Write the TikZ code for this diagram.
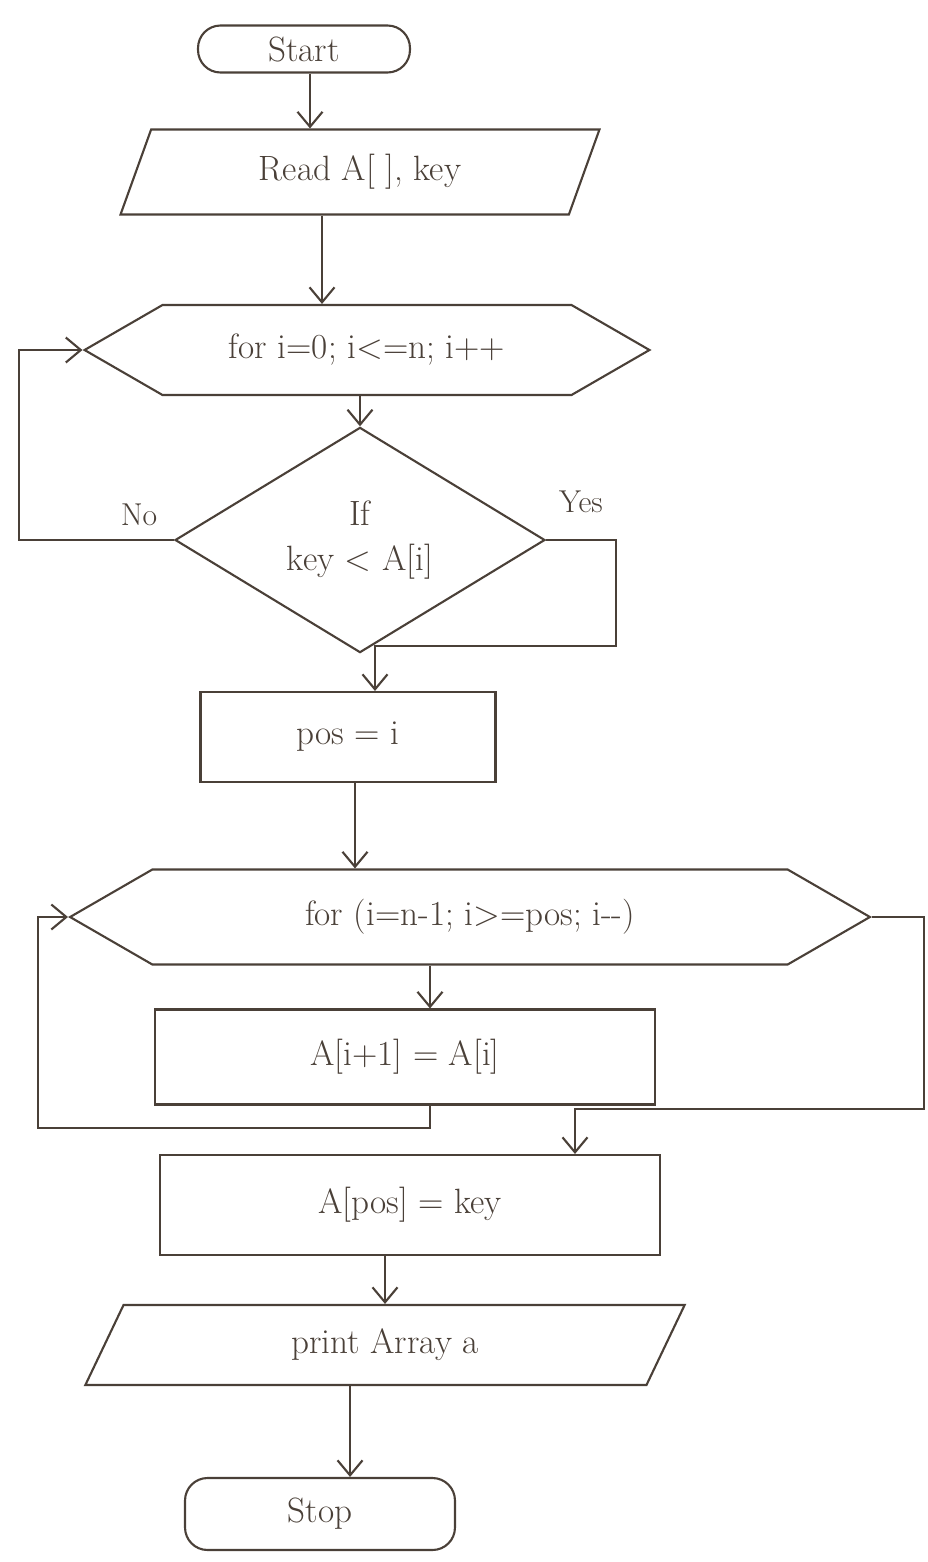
\documentclass[tikz,border=0pt]{standalone}
\usepackage{fontspec}
\usetikzlibrary{shapes.geometric,shapes.symbols,arrows.meta,calc}
\definecolor{ink}{HTML}{4A4038}
\begin{document}
\begin{tikzpicture}[x=0.02cm,y=-0.02cm,
  every node/.style={font=\fontsize{20}{26}\selectfont, text=ink},
  base/.style={draw=ink, line width=1.2pt, inner sep=2pt, align=center},
  term/.style={base, rectangle, rounded corners=0.45cm},
  io/.style={base, trapezium, trapezium left angle=70, trapezium right angle=110, trapezium stretches=true},
  loopbox/.style={base, signal, signal to=west and east, signal pointer angle=60},
  dec/.style={base, diamond, inner sep=0pt},
  proc/.style={base, rectangle},
  arr/.style={draw=ink, line width=1.2pt, -{Straight Barb[length=3mm,width=5mm]}},
  lbl/.style={font=\fontsize{18}{22}\selectfont}]
\fill[white] (0,0) rectangle (927,1562);
\useasboundingbox (0,0) rectangle (927,1562);

\node[term, minimum width=4.24cm, minimum height=0.94cm] (start) at (304,49) {Start};
\node[io, minimum width=9.6cm, minimum height=1.7cm] (read) at (360,172) {Read A[ ], key};
\node[loopbox, minimum width=11.3cm, minimum height=1.8cm] (for1) at (367,350) {for i=0; i<=n; i++};
\node[dec, minimum width=7.4cm, minimum height=3.8cm] (if) at (360,540) {If\\key < A[i]};
\node[proc, minimum width=5.9cm, minimum height=1.8cm] (pos) at (348,737) {pos = i};
\node[loopbox, minimum width=16cm, minimum height=1.9cm] (for2) at (470,917) {for (i=n-1; i>=pos; i-{}-)};
\node[proc, minimum width=10cm, minimum height=1.9cm] (shift) at (405,1057) {A[i+1] = A[i]};
\node[proc, minimum width=10cm, minimum height=2cm] (set) at (410,1205) {A[pos] = key};
\node[io, minimum width=12cm, minimum height=1.6cm] (print) at (385,1345) {print Array a};
\node[term, minimum width=5.4cm, minimum height=1.44cm] (stop) at (320,1514) {Stop};

\draw[arr] ([xshift=0.12cm]start.south) -- ([xshift=0.12cm]start.south |- read.north);
\draw[arr] ([xshift=-0.76cm]read.south) -- ([xshift=-0.76cm]read.south |- for1.north);
\draw[arr] (if.north |- for1.south) -- (if.north);
\draw[arr] (if.west) -- ++(-155,0) |- (for1.west);
\node[lbl] (no) at ($(if.west)+(-35,-25)$) {No};
\draw[arr] (if.east) -- ++(70,0) |- ($(pos.north)+(27,-45)$) -- ($(pos.north)+(27,0)$);
\node[lbl] (yes) at ($(if.east)+(35,-38)$) {Yes};
\draw[arr] ([xshift=0.14cm]pos.south) -- ([xshift=0.14cm]pos.south |- for2.north);
\draw[arr] ([xshift=0.5cm]shift.north |- for2.south) -- ([xshift=0.5cm]shift.north);
\draw[arr] (for2.east) -- ++(52,0) |- ($(set.north)+(165,-45)$) -- ($(set.north)+(165,0)$);
\draw[arr] ($(shift.south)+(25,0)$) -- ++(0,22) -| ($(for2.west)+(-30,0)$) -- (for2.west);
\draw[arr] ([xshift=-0.5cm]set.south) -- ([xshift=-0.5cm]set.south |- print.north);
\draw[arr] ([xshift=-0.7cm]print.south) -- ([xshift=-0.7cm]print.south |- stop.north);
\end{tikzpicture}
\end{document}
